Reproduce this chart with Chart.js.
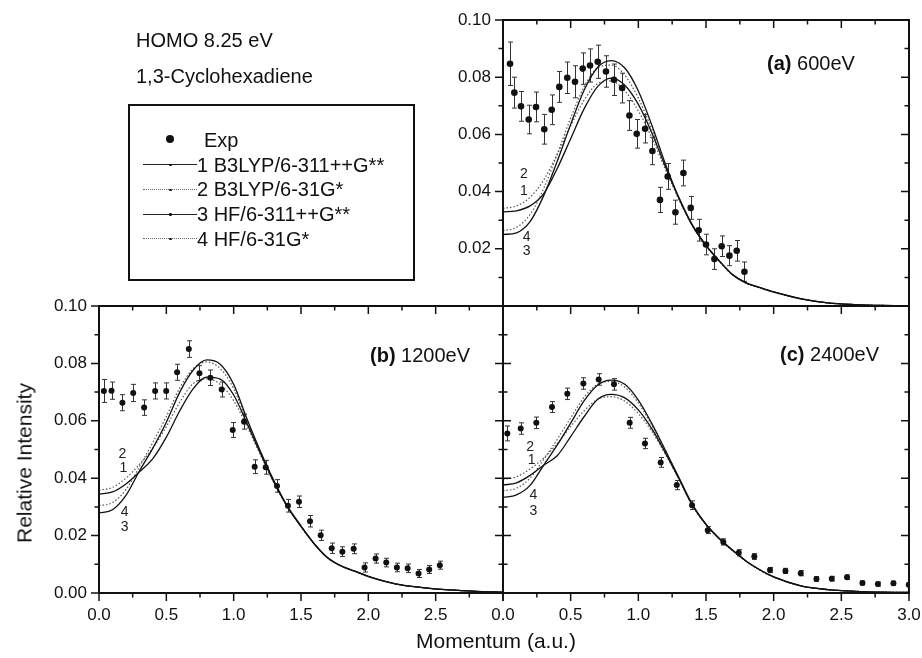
<!DOCTYPE html>
<html><head><meta charset="utf-8">
<script src="https://cdn.jsdelivr.net/npm/chart.js@4/dist/chart.umd.min.js"></script>
<style>
html,body{margin:0;padding:0;background:#fff;}
#wrap{position:relative;width:922px;height:658px;overflow:hidden;font-family:"Liberation Sans",Arial,sans-serif;color:#111;background:#fff;}
canvas{position:absolute;left:0;top:0;}
.t{position:absolute;white-space:nowrap;line-height:1;}
.ls{position:absolute;height:0;width:54px;left:143px;}
.dot{position:absolute;border-radius:50%;background:#111;}
</style></head><body>
<div id="wrap">
<canvas id="pa" width="922" height="658"></canvas>
<canvas id="pb" width="922" height="658"></canvas>
<canvas id="pc" width="922" height="658"></canvas>

<div class="t" style="left:136px;top:30px;font-size:20px">HOMO 8.25 eV</div>
<div class="t" style="left:136px;top:66px;font-size:20px">1,3-Cyclohexadiene</div>

<div style="position:absolute;left:128px;top:104px;width:283px;height:173px;border:2px solid #111;"></div>
<div class="dot" style="left:166px;top:135px;width:8px;height:8px;"></div>
<div class="t" style="left:204px;top:130px;font-size:20px">Exp</div>
<div class="ls" style="top:164px;border-top:1.3px solid #222;"></div>
<div class="dot" style="left:169px;top:163.5px;width:2.5px;height:2.5px;"></div>
<div class="t" style="left:197px;top:154.5px;font-size:20px">1 B3LYP/6-311++G**</div>
<div class="ls" style="top:189px;border-top:1.3px dotted #666;"></div>
<div class="dot" style="left:169px;top:188.5px;width:2.5px;height:2.5px;"></div>
<div class="t" style="left:197px;top:179px;font-size:20px">2 B3LYP/6-31G*</div>
<div class="ls" style="top:213.5px;border-top:1.3px solid #222;"></div>
<div class="dot" style="left:169px;top:213px;width:2.5px;height:2.5px;"></div>
<div class="t" style="left:197px;top:204px;font-size:20px">3 HF/6-311++G**</div>
<div class="ls" style="top:238px;border-top:1.3px dotted #666;"></div>
<div class="dot" style="left:169px;top:237.5px;width:2.5px;height:2.5px;"></div>
<div class="t" style="left:197px;top:228.5px;font-size:20px">4 HF/6-31G*</div>

<div class="t" style="left:767px;top:53px;font-size:20px"><b>(a)</b> 600eV</div>
<div class="t" style="left:370px;top:345px;font-size:20px"><b>(b)</b> 1200eV</div>
<div class="t" style="left:780px;top:344px;font-size:20px"><b>(c)</b> 2400eV</div>

<div class="t" style="left:24px;top:463px;font-size:21px;transform:translate(-50%,-50%) rotate(-90deg);">Relative Intensity</div>
<div class="t" style="left:496px;top:630px;font-size:21px;transform:translateX(-50%);">Momentum (a.u.)</div>
</div>

<script>
// ---------------- data ----------------
const CURVE_X = [0, 0.1, 0.2, 0.3, 0.4, 0.5, 0.6, 0.7, 0.8, 0.9, 1.0, 1.1, 1.2, 1.3, 1.4, 1.5, 1.6, 1.7, 1.8, 1.9, 2.0, 2.2, 2.4, 2.6, 2.8, 3.0];

// (a) 600 eV
const A_C1 = [0.0329,0.0333,0.0350,0.0392,0.0480,0.0585,0.0690,0.0768,0.0797,0.0772,0.0705,0.0605,0.0487,0.0378,0.0282,0.0212,0.0157,0.0108,0.0080,0.0064,0.0049,0.0026,0.0011,0.0005,0.0002,0.0001];
const A_C2 = [0.0341,0.0350,0.0380,0.0440,0.0530,0.0630,0.0720,0.0778,0.0787,0.0752,0.0682,0.0588,0.0478,0.0372,0.0280,0.0210,0.0155,0.0107,0.0079,0.0063,0.0048,0.0025,0.0011,0.0005,0.0002,0.0001];
const A_C3 = [0.0250,0.0256,0.0295,0.0385,0.0505,0.0635,0.0755,0.0835,0.0858,0.0832,0.0752,0.0632,0.0497,0.0378,0.0282,0.0212,0.0157,0.0108,0.0080,0.0064,0.0049,0.0025,0.0011,0.0005,0.0002,0.0001];
const A_C4 = [0.0263,0.0275,0.0320,0.0410,0.0530,0.0657,0.0767,0.0833,0.0842,0.0807,0.0727,0.0617,0.0490,0.0374,0.0280,0.0210,0.0155,0.0107,0.0079,0.0063,0.0048,0.0025,0.0011,0.0005,0.0002,0.0001];
const A_X = [0.052,0.084,0.133,0.19,0.244,0.305,0.36,0.416,0.475,0.532,0.589,0.643,0.70,0.761,0.82,0.88,0.934,0.988,1.05,1.104,1.16,1.217,1.274,1.333,1.387,1.446,1.50,1.562,1.616,1.673,1.727,1.784];
const A_Y = [0.0847,0.0746,0.0698,0.0652,0.0696,0.0618,0.0686,0.0766,0.0798,0.0784,0.0830,0.0841,0.0854,0.0820,0.0791,0.0762,0.0666,0.0602,0.0620,0.0542,0.0371,0.0453,0.0328,0.0465,0.0343,0.0265,0.0215,0.0164,0.0209,0.0176,0.0193,0.0120];
const A_ERR = [0.0076,0.0054,0.0052,0.0050,0.0052,0.0052,0.0052,0.0054,0.0055,0.0056,0.0055,0.0058,0.0058,0.0055,0.0055,0.0052,0.0052,0.0050,0.0050,0.0048,0.0044,0.0045,0.0042,0.0045,0.0040,0.0038,0.0036,0.0036,0.0036,0.0035,0.0036,0.0034];

// (b) 1200 eV
const B_C1 = [0.0344,0.0352,0.0380,0.0422,0.0468,0.0543,0.0635,0.0712,0.0752,0.0745,0.0690,0.0590,0.0485,0.0385,0.0300,0.0232,0.0170,0.0122,0.0094,0.0076,0.0058,0.0032,0.0019,0.0011,0.0006,0.0003];
const B_C2 = [0.0358,0.0368,0.0400,0.0448,0.0505,0.0580,0.0665,0.0730,0.0746,0.0727,0.0670,0.0580,0.0480,0.0383,0.0298,0.0230,0.0169,0.0121,0.0093,0.0075,0.0057,0.0032,0.0019,0.0011,0.0006,0.0003];
const B_C3 = [0.0279,0.0290,0.0340,0.0425,0.0505,0.0595,0.0700,0.0777,0.0812,0.0797,0.0727,0.0605,0.0492,0.0390,0.0302,0.0234,0.0171,0.0122,0.0094,0.0076,0.0058,0.0032,0.0019,0.0011,0.0006,0.0003];
const B_C4 = [0.0304,0.0315,0.0360,0.0440,0.0525,0.0615,0.0715,0.0782,0.0805,0.0782,0.0712,0.0597,0.0490,0.0388,0.0300,0.0232,0.0170,0.0121,0.0093,0.0075,0.0057,0.0032,0.0019,0.0011,0.0006,0.0003];
const B_X = [0.036,0.093,0.174,0.254,0.335,0.417,0.499,0.58,0.667,0.746,0.827,0.911,0.993,1.077,1.156,1.238,1.322,1.403,1.485,1.567,1.646,1.728,1.807,1.891,1.972,2.054,2.133,2.212,2.292,2.373,2.452,2.531];
const B_Y = [0.0704,0.0705,0.0663,0.0697,0.0646,0.0704,0.0704,0.0769,0.0850,0.0766,0.0750,0.0709,0.0568,0.0597,0.0440,0.0438,0.0373,0.0304,0.0318,0.0250,0.0201,0.0156,0.0144,0.0154,0.0089,0.0120,0.0106,0.0089,0.0086,0.0068,0.0082,0.0097];
const B_ERR = [0.0040,0.0030,0.0028,0.0030,0.0027,0.0028,0.0028,0.0028,0.0029,0.0026,0.0027,0.0026,0.0026,0.0026,0.0024,0.0024,0.0022,0.0022,0.0020,0.0020,0.0018,0.0018,0.0017,0.0017,0.0016,0.0016,0.0015,0.0015,0.0015,0.0014,0.0014,0.0014];

// (c) 2400 eV
const C_C1 = [0.0376,0.0384,0.0410,0.0445,0.0478,0.0545,0.0615,0.0675,0.0692,0.0680,0.0638,0.0572,0.0488,0.0398,0.0305,0.0238,0.0188,0.0147,0.0110,0.0080,0.0056,0.0025,0.0012,0.0006,0.0003,0.0002];
const C_C2 = [0.0396,0.0405,0.0432,0.0470,0.0520,0.0580,0.0635,0.0675,0.0684,0.0668,0.0625,0.0563,0.0483,0.0396,0.0304,0.0237,0.0187,0.0146,0.0109,0.0079,0.0055,0.0025,0.0012,0.0006,0.0003,0.0002];
const C_C3 = [0.0333,0.0342,0.0375,0.0445,0.0515,0.0592,0.0670,0.0725,0.0742,0.0727,0.0672,0.0590,0.0497,0.0402,0.0308,0.0240,0.0190,0.0148,0.0110,0.0080,0.0056,0.0025,0.0012,0.0006,0.0003,0.0002];
const C_C4 = [0.0356,0.0365,0.0400,0.0465,0.0535,0.0610,0.0682,0.0728,0.0737,0.0717,0.0662,0.0584,0.0494,0.0400,0.0306,0.0239,0.0189,0.0147,0.0110,0.0080,0.0056,0.0025,0.0012,0.0006,0.0003,0.0002];
const C_X = [0.032,0.131,0.246,0.362,0.475,0.594,0.707,0.82,0.936,1.049,1.165,1.284,1.397,1.513,1.628,1.742,1.857,1.973,2.087,2.2,2.316,2.429,2.542,2.656,2.77,2.885,2.998];
const C_Y = [0.0556,0.0573,0.0593,0.0648,0.0694,0.0730,0.0744,0.0727,0.0593,0.0521,0.0455,0.0376,0.0306,0.0219,0.0178,0.0140,0.0127,0.0080,0.0077,0.0069,0.0049,0.0050,0.0055,0.0035,0.0031,0.0034,0.0029];
const C_ERR = [0.0026,0.0020,0.0020,0.0019,0.0020,0.0020,0.0020,0.0020,0.0019,0.0018,0.0017,0.0016,0.0015,0.0012,0.0011,0.0011,0.0010,0.0009,0.0009,0.0009,0.0008,0.0008,0.0008,0.0007,0.0007,0.0007,0.0007];

// tick positions
const X_MAJOR = [0, 0.5, 1.0, 1.5, 2.0, 2.5, 3.0];
const X_MINOR = [0.25, 0.75, 1.25, 1.75, 2.25, 2.75];
const Y_MAJOR = [0, 0.02, 0.04, 0.06, 0.08, 0.10];
const Y_MINOR = [0.01, 0.03, 0.05, 0.07, 0.09];
const CURVE_NAMES = ['1 B3LYP/6-311++G**', '2 B3LYP/6-31G*', '3 HF/6-311++G**', '4 HF/6-31G*'];

// ---------------- drawing ----------------
const FONT = "'Liberation Sans', Arial, sans-serif";
const pts = (xs, ys) => xs.map((x, i) => ({x: x, y: ys[i]}));

const panelPlugin = {
  id: 'panel',
  beforeDatasetsDraw(chart, args, o) {
    const {ctx, chartArea: ca, scales: {x: xs, y: ys}} = chart;
    ctx.save();
    ctx.beginPath(); ctx.rect(ca.left, ca.top, ca.width, ca.height); ctx.clip();
    ctx.strokeStyle = '#333'; ctx.lineWidth = 1;
    o.ex.forEach((xv, i) => {
      const px = Math.round(xs.getPixelForValue(xv)) + 0.5;
      const y1 = ys.getPixelForValue(o.ey[i] + o.ee[i]);
      const y2 = ys.getPixelForValue(o.ey[i] - o.ee[i]);
      ctx.beginPath();
      ctx.moveTo(px, y1); ctx.lineTo(px, y2);
      ctx.moveTo(px - 2.5, y1); ctx.lineTo(px + 2.5, y1);
      ctx.moveTo(px - 2.5, y2); ctx.lineTo(px + 2.5, y2);
      ctx.stroke();
    });
    ctx.restore();
  },
  afterDraw(chart, args, o) {
    const {ctx, chartArea: ca, scales: {x: xs, y: ys}} = chart;
    ctx.save();
    ctx.strokeStyle = '#111';
    ctx.lineWidth = 1.5;
    const tick = (side, dir, vals, len) => {
      if (dir === 'none') return;
      const s = dir === 'out' ? 1 : -1;
      ctx.beginPath();
      vals.forEach(v => {
        if (side === 'left' || side === 'right') {
          const py = ys.getPixelForValue(v);
          const x0 = side === 'left' ? ca.left : ca.right;
          const d = side === 'left' ? -s : s;
          ctx.moveTo(x0, py); ctx.lineTo(x0 + d * len, py);
        } else {
          const px = xs.getPixelForValue(v);
          const y0 = side === 'top' ? ca.top : ca.bottom;
          const d = side === 'top' ? -s : s;
          ctx.moveTo(px, y0); ctx.lineTo(px, y0 + d * len);
        }
      });
      ctx.stroke();
    };
    ['left', 'right'].forEach(sd => { tick(sd, o.ticks[sd], Y_MAJOR, 8); tick(sd, o.ticks[sd], Y_MINOR, 4.5); });
    ['top', 'bottom'].forEach(sd => { tick(sd, o.ticks[sd], X_MAJOR, 8); tick(sd, o.ticks[sd], X_MINOR, 4.5); });
    ctx.lineWidth = 2;
    ctx.strokeRect(ca.left, ca.top, ca.right - ca.left, ca.bottom - ca.top);
    ctx.fillStyle = '#222';
    ctx.font = '14px ' + FONT;
    ctx.textAlign = 'center';
    ctx.textBaseline = 'middle';
    o.labels.forEach(l => ctx.fillText(l.t, xs.getPixelForValue(l.x), ys.getPixelForValue(l.y)));
    ctx.restore();
  }
};

// invisible tick marks only used to offset the library's tick labels from the axis
const hiddenGrid = {display: true, drawOnChartArea: false, drawTicks: true, tickLength: 12,
                    color: 'rgba(0,0,0,0)', tickColor: 'rgba(0,0,0,0)'};

function makePanel(id, P) {
  const solid = {borderColor: '#111', borderWidth: 1.3};
  const dotted = {borderColor: '#555', borderWidth: 1.2, borderDash: [1.5, 2]};
  const curve = (name, ys, st, ord) => Object.assign({
    label: name, data: pts(CURVE_X, ys), showLine: true, pointRadius: 0,
    cubicInterpolationMode: 'monotone', fill: false, order: ord
  }, st);
  new Chart(document.getElementById(id), {
    type: 'scatter',
    data: {
      datasets: [
        curve(CURVE_NAMES[1], P.c[1], dotted, 5),
        curve(CURVE_NAMES[3], P.c[3], dotted, 4),
        curve(CURVE_NAMES[0], P.c[0], solid, 3),
        curve(CURVE_NAMES[2], P.c[2], solid, 2),
        {label: 'Exp', data: pts(P.ex, P.ey), pointRadius: P.r, pointBackgroundColor: '#111',
         pointBorderColor: '#111', pointBorderWidth: 0, showLine: false, order: 1}
      ]
    },
    options: {
      responsive: false, animation: false, devicePixelRatio: 1,
      layout: {padding: P.pad, autoPadding: false},
      plugins: {
        legend: {display: false}, tooltip: {enabled: false},
        panel: {ex: P.ex, ey: P.ey, ee: P.ee, ticks: P.ticks, labels: P.labels}
      },
      scales: {
        x: {
          type: 'linear', min: 0, max: 3,
          grid: hiddenGrid, border: {display: false},
          ticks: {display: P.showX, stepSize: 0.5, padding: 0, color: '#111', autoSkip: false, maxRotation: 0,
                  font: {family: FONT, size: 17},
                  callback: v => (P.hideX3 && v === 3) ? '' : v.toFixed(1)},
          afterFit: s => { s.height = 40; s.paddingLeft = 0; s.paddingRight = 0; }
        },
        y: {
          type: 'linear', min: 0, max: 0.1,
          grid: hiddenGrid, border: {display: false},
          ticks: {display: P.showY, stepSize: 0.02, padding: 0, color: '#111', autoSkip: false,
                  font: {family: FONT, size: 17},
                  callback: v => (P.hideY0 && Math.abs(v) < 1e-9) ? '' : v.toFixed(2)},
          afterFit: s => { s.width = 60; s.paddingTop = 0; s.paddingBottom = 0; }
        }
      }
    },
    plugins: [panelPlugin]
  });
}

makePanel('pa', {
  c: [A_C1, A_C2, A_C3, A_C4], ex: A_X, ey: A_Y, ee: A_ERR, r: 3.3,
  pad: {left: 443, right: 13, top: 20, bottom: 312},
  showX: false, showY: true, hideY0: true,
  ticks: {left: 'out', right: 'in', top: 'in', bottom: 'none'},
  labels: [{t: '2', x: 0.155, y: 0.046}, {t: '1', x: 0.155, y: 0.0402}, {t: '4', x: 0.175, y: 0.0240}, {t: '3', x: 0.175, y: 0.0193}]
});
makePanel('pb', {
  c: [B_C1, B_C2, B_C3, B_C4], ex: B_X, ey: B_Y, ee: B_ERR, r: 3,
  pad: {left: 39, right: 419, top: 306, bottom: 25},
  showX: true, showY: true, hideX3: true,
  ticks: {left: 'out', right: 'in', top: 'in', bottom: 'out'},
  labels: [{t: '2', x: 0.174, y: 0.0483}, {t: '1', x: 0.182, y: 0.0434}, {t: '4', x: 0.19, y: 0.0283}, {t: '3', x: 0.19, y: 0.0230}]
});
makePanel('pc', {
  c: [C_C1, C_C2, C_C3, C_C4], ex: C_X, ey: C_Y, ee: C_ERR, r: 3,
  pad: {left: 443, right: 13, top: 306, bottom: 25},
  showX: true, showY: false,
  ticks: {left: 'in', right: 'in', top: 'in', bottom: 'out'},
  labels: [{t: '2', x: 0.2, y: 0.0508}, {t: '1', x: 0.212, y: 0.0463}, {t: '4', x: 0.224, y: 0.0341}, {t: '3', x: 0.224, y: 0.0286}]
});
</script>
</body></html>
